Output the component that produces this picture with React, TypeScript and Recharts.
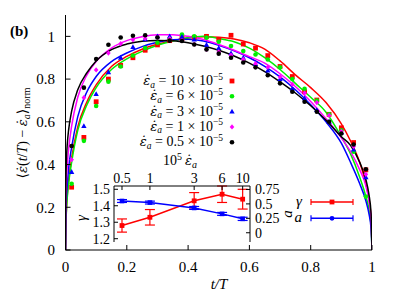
import React from "react";
import { ComposedChart, Line, Scatter, XAxis, YAxis, Legend, ErrorBar } from "recharts";

const FONT = '"Liberation Serif", "DejaVu Serif", serif';
const EPSFONT = '"DejaVu Serif", serif';

// fitted curves, sampled at tGrid
const tGrid = [0, 0.001, 0.003, 0.006, 0.01, 0.02, 0.04, 0.07, 0.1, 0.15, 0.2, 0.25, 0.3, 0.35, 0.4, 0.45, 0.5, 0.55, 0.6, 0.65, 0.7, 0.75, 0.8, 0.85, 0.9, 0.93, 0.96, 0.98, 0.99, 0.997, 1];
const fit10 = [0, 0.11, 0.19, 0.26, 0.32, 0.43, 0.576, 0.694, 0.773, 0.859, 0.906, 0.94, 0.963, 0.98, 0.992, 0.998, 0.996, 0.988, 0.97, 0.94, 0.885, 0.82, 0.76, 0.69, 0.59, 0.51, 0.41, 0.31, 0.24, 0.15, 0];
const fit6 = [0, 0.1, 0.18, 0.25, 0.31, 0.41, 0.56, 0.68, 0.76, 0.845, 0.895, 0.93, 0.958, 0.978, 0.993, 1.0, 0.99, 0.975, 0.945, 0.9, 0.845, 0.78, 0.715, 0.645, 0.53, 0.45, 0.34, 0.25, 0.19, 0.11, 0];
const fit3 = [0, 0.14, 0.24, 0.31, 0.38, 0.48, 0.624, 0.741, 0.812, 0.882, 0.922, 0.952, 0.972, 0.984, 0.986, 0.978, 0.958, 0.932, 0.9, 0.86, 0.81, 0.75, 0.68, 0.6, 0.5, 0.41, 0.31, 0.23, 0.17, 0.1, 0];
const fit1 = [0, 0.2, 0.32, 0.4, 0.47, 0.58, 0.715, 0.82, 0.882, 0.945, 0.98, 0.998, 1.007, 1.008, 1.0, 0.985, 0.962, 0.935, 0.905, 0.875, 0.825, 0.765, 0.695, 0.615, 0.525, 0.46, 0.375, 0.3, 0.23, 0.15, 0];
const fit05 = [0, 0.3, 0.42, 0.5, 0.56, 0.65, 0.75, 0.83, 0.885, 0.938, 0.964, 0.977, 0.981, 0.979, 0.97, 0.955, 0.935, 0.908, 0.875, 0.835, 0.787, 0.735, 0.675, 0.607, 0.53, 0.49, 0.41, 0.33, 0.26, 0.17, 0];

// measured points
const tPts = [0.02, 0.06, 0.1, 0.14, 0.18, 0.22, 0.26, 0.3, 0.34, 0.38, 0.42, 0.46, 0.5, 0.54, 0.58, 0.62, 0.66, 0.7, 0.74, 0.78, 0.82, 0.86, 0.9, 0.94, 0.98];
const pts10 = [0.294, 0.527, 0.694, 0.8, 0.864, 0.9, 0.935, 0.96, 0.98, 0.99, 0.995, 1.0, 0.986, 1.005, 0.964, 0.945, 0.91, 0.859, 0.812, 0.741, 0.702, 0.635, 0.572, 0.503, 0.375];
const pts6 = [0.31, 0.511, 0.674, 0.788, 0.859, 0.91, 0.945, 0.97, 0.99, 1.009, 1.0, 0.994, 0.975, 0.955, 0.931, 0.915, 0.892, 0.855, 0.8, 0.755, 0.7, 0.635, 0.56, 0.46, 0.25];
const pts3 = [0.365, 0.58, 0.73, 0.832, 0.9, 0.95, 0.986, 1.0, 1.0, 0.998, 0.985, 0.96, 0.945, 0.92, 0.9, 0.87, 0.84, 0.8, 0.755, 0.71, 0.655, 0.6, 0.55, 0.47, 0.34];
const pts1 = [0.423, 0.713, 0.843, 0.922, 0.966, 0.984, 0.99, 0.995, 0.99, 0.98, 0.963, 0.939, 0.927, 0.912, 0.892, 0.872, 0.856, 0.81, 0.775, 0.735, 0.69, 0.63, 0.555, 0.485, 0.354];
const pts05 = [0.487, 0.76, 0.894, 0.961, 0.995, 1.003, 1.005, 0.995, 0.98, 0.978, 0.962, 0.939, 0.919, 0.9, 0.878, 0.855, 0.818, 0.78, 0.741, 0.694, 0.647, 0.6, 0.545, 0.494, 0.378];

const rateLabels = ["10", "6", "3", "1", "0.5"];
const colors = ["#ff0000", "#00ee00", "#0000ff", "#ff00ff", "#000000"];

const xTicks = [0, 0.2, 0.4, 0.6, 0.8, 1];
const yTicks = [0, 0.2, 0.4, 0.6, 0.8, 1];

// inset: exponents vs strain rate
const epsRates = [0.5, 1, 3, 6, 10];
const gammaTicks = [1.2, 1.3, 1.4, 1.5];
const aTicks = [0, 0.25, 0.5, 0.75];
const gammaVals = [1.28, 1.33, 1.43, 1.47, 1.44];
const gammaErr = [0.04, 0.047, 0.05, 0.05, 0.06];
const aVals = [0.55, 0.523, 0.43, 0.327, 0.241];
const aErr = [0.025, 0.025, 0.025, 0.025, 0.028];

const fits = [fit10, fit6, fit3, fit1, fit05];
const pts = [pts10, pts6, pts3, pts1, pts05];
const lineData = fits.map((f) => tGrid.map((t, i) => ({ t, v: f[i] })));
const ptData = pts.map((p) => tPts.map((t, i) => ({ t, v: p[i] })));
const insetData = epsRates.map((e, i) => ({ e, g: gammaVals[i], ge: gammaErr[i], a: aVals[i], ae: aErr[i] }));

const EPSDOT = "\u03b5\u0307";

function marker(i: number, cx: number, cy: number) {
  const c = colors[i];
  if (i === 0) return <rect x={cx - 2.4} y={cy - 2.4} width={4.8} height={4.8} fill={c} />;
  if (i === 2) return <polygon points={`${cx},${cy - 2.9} ${cx - 2.7},${cy + 1.9} ${cx + 2.7},${cy + 1.9}`} fill={c} />;
  if (i === 3) return <polygon points={`${cx},${cy - 2.6} ${cx + 2.3},${cy} ${cx},${cy + 2.6} ${cx - 2.3},${cy}`} fill={c} />;
  return <circle cx={cx} cy={cy} r={2.3} fill={c} />;
}

const tickStyle = { fill: "#000", fontSize: 15, fontFamily: FONT };
const insetTick = { fill: "#000", fontSize: 14, fontFamily: FONT };

const ROW = 15.3;
const MainLegend = () => (
  <svg width={130} height={80} style={{ fontFamily: FONT, overflow: "visible" }}>
    {rateLabels.map((lab, i) => {
      const cy = 8 + i * ROW;
      return (
        <g key={lab}>
          <text x={108} y={cy + 4} textAnchor="end" fontSize={14} fill="#000">
            <tspan fontStyle="italic" fontFamily={EPSFONT} fontSize={13}>{EPSDOT}</tspan>
            <tspan fontStyle="italic" fontSize={9.5} dy={2.5}>a</tspan>
            <tspan dy={-2.5}>{" = " + lab + " \u00d7 10"}</tspan>
            <tspan fontSize={9.5} dy={-5.5}>{"\u22125"}</tspan>
          </text>
          {marker(i, 117, cy)}
        </g>
      );
    })}
  </svg>
);

const InsetLegend = () => (
  <svg width={80} height={40} style={{ fontFamily: FONT }}>
    <text x={17} y={16} textAnchor="end" fontSize={15} fontStyle="italic">γ</text>
    <line x1={26} x2={68} y1={12} y2={12} stroke="#f00" strokeWidth={1.5} />
    <line x1={26} x2={26} y1={9} y2={15} stroke="#f00" strokeWidth={1.2} />
    <line x1={68} x2={68} y1={9} y2={15} stroke="#f00" strokeWidth={1.2} />
    <rect x={44.6} y={9.6} width={4.8} height={4.8} fill="#f00" />
    <text x={17} y={32} textAnchor="end" fontSize={15} fontStyle="italic">a</text>
    <line x1={26} x2={68} y1={28.3} y2={28.3} stroke="#00f" strokeWidth={1.5} />
    <line x1={26} x2={26} y1={25.3} y2={31.3} stroke="#00f" strokeWidth={1.2} />
    <line x1={68} x2={68} y1={25.3} y2={31.3} stroke="#00f" strokeWidth={1.2} />
    <circle cx={47} cy={28.3} r={2.4} fill="#00f" />
  </svg>
);

const RedDot = (p: any) => <rect x={p.cx - 2.4} y={p.cy - 2.4} width={4.8} height={4.8} fill="#f00" />;
const BlueDot = (p: any) => <rect x={p.cx - 2.3} y={p.cy - 2.3} width={4.6} height={4.6} fill="#00f" />;

const fmt = (v: number) => String(v);

export default function App() {
  return (
    <div style={{ position: "absolute", left: 0, top: 0, width: 400, height: 300, background: "#fff" }}>
      <ComposedChart width={400} height={300} margin={{ top: 15, right: 28, bottom: 20, left: 0 }}>
        <XAxis xAxisId="b" dataKey="t" type="number" domain={[0, 1]} ticks={xTicks} tickFormatter={fmt} interval={0} height={30} tickSize={-5} tickMargin={16} stroke="#000" tick={tickStyle} allowDataOverflow />
        <XAxis xAxisId="top" orientation="top" dataKey="t" type="number" domain={[0, 1]} ticks={xTicks} interval={0} height={0} tickSize={-5} tick={false} stroke="#000" allowDataOverflow />
        <YAxis yAxisId="l" type="number" domain={[0, 1.1]} ticks={yTicks} tickFormatter={fmt} interval={0} width={65.5} tickSize={-5} tickMargin={15.5} stroke="#000" tick={tickStyle} allowDataOverflow />
        <YAxis yAxisId="r" orientation="right" type="number" domain={[0, 1.1]} ticks={yTicks} interval={0} width={0} tickSize={-5} tick={false} stroke="#000" allowDataOverflow />
        {lineData.map((d, i) => (
          <Line key={"l" + i} xAxisId="b" yAxisId="l" data={d} dataKey="v" type="monotone" stroke={colors[i]} strokeWidth={1.5} dot={false} activeDot={false} isAnimationActive={false} legendType="none" />
        ))}
        {ptData.map((d, i) => (
          <Scatter key={"s" + i} xAxisId="b" yAxisId="l" data={d} dataKey="v" fill={colors[i]} shape={(p: any) => marker(i, p.cx, p.cy)} isAnimationActive={false} />
        ))}
        <Legend layout="horizontal" verticalAlign="middle" align="center" content={() => <MainLegend />} wrapperStyle={{ left: 115, top: 73, width: 130 }} />
        <text x={10} y={36} fontFamily={FONT} fontSize={15} fontWeight="bold">(b)</text>
        <text x={219} y={289} textAnchor="middle" fontFamily={FONT} fontSize={15} fontStyle="italic">t/T</text>
        <text transform="translate(27,133) rotate(-90)" textAnchor="middle" fontFamily={FONT} fontSize={14}>
          <tspan>⟨</tspan>
          <tspan fontStyle="italic" fontFamily={EPSFONT} fontSize={13}>{EPSDOT}</tspan>
          <tspan>(</tspan>
          <tspan fontStyle="italic">t</tspan>
          <tspan>/</tspan>
          <tspan fontStyle="italic">T</tspan>
          <tspan>) − </tspan>
          <tspan fontStyle="italic" fontFamily={EPSFONT} fontSize={13}>{EPSDOT}</tspan>
          <tspan fontStyle="italic" fontSize={10} dy={3}>a</tspan>
          <tspan dy={-3}>⟩</tspan>
          <tspan fontSize={10} dy={3}>norm</tspan>
        </text>
      </ComposedChart>

      <div style={{ position: "absolute", left: 60, top: 150 }}>
        <ComposedChart width={300} height={100} data={insetData} margin={{ top: 0, right: 60, bottom: 8, left: 0 }}>
          <XAxis xAxisId="top" orientation="top" dataKey="e" type="number" scale="log" domain={[0.41, 12]} ticks={epsRates} tickFormatter={fmt} interval={0} height={36} tickSize={-4} tickMargin={7} stroke="#000" tick={insetTick} allowDataOverflow />
          <XAxis xAxisId="bot" orientation="bottom" dataKey="e" type="number" scale="log" domain={[0.41, 12]} height={0} tick={false} tickLine={false} stroke="#000" allowDataOverflow />
          <YAxis yAxisId="g" type="number" domain={[1.18, 1.52]} ticks={gammaTicks} tickFormatter={(v: number) => v.toFixed(1)} interval={0} width={54} tickSize={-4} tickMargin={8} stroke="#000" tick={insetTick} allowDataOverflow />
          <YAxis yAxisId="a" orientation="right" type="number" domain={[-0.16, 0.81]} ticks={aTicks} tickFormatter={fmt} interval={0} width={50} tickSize={-4} tickMargin={9} stroke="#000" tick={insetTick} allowDataOverflow />
          <Line xAxisId="top" yAxisId="g" dataKey="g" type="linear" stroke="#f00" strokeWidth={1.5} dot={<RedDot />} activeDot={false} isAnimationActive={false}>
            <ErrorBar dataKey="ge" width={5} stroke="#f00" strokeWidth={1.2} direction="y" />
          </Line>
          <Line xAxisId="top" yAxisId="a" dataKey="a" type="linear" stroke="#00f" strokeWidth={1.5} dot={<BlueDot />} activeDot={false} isAnimationActive={false}>
            <ErrorBar dataKey="ae" width={5} stroke="#00f" strokeWidth={1.2} direction="y" />
          </Line>
          <Legend layout="horizontal" verticalAlign="middle" align="center" content={() => <InsetLegend />} wrapperStyle={{ left: 225, top: 40, width: 80 }} />
          <text x={103} y={15} fontFamily={FONT} fontSize={14}>
            <tspan>10</tspan>
            <tspan fontSize={10} dy={-5}>5</tspan>
            <tspan dy={5} dx={3} fontStyle="italic" fontFamily={EPSFONT} fontSize={13}>{EPSDOT}</tspan>
            <tspan fontSize={10} dy={2.5} fontStyle="italic">a</tspan>
          </text>
          <text transform="translate(26,68) rotate(-90)" textAnchor="middle" fontFamily={FONT} fontSize={15} fontStyle="italic">γ</text>
          <text transform="translate(232,64) rotate(-90)" textAnchor="middle" fontFamily={FONT} fontSize={15} fontStyle="italic">a</text>
        </ComposedChart>
      </div>
    </div>
  );
}
